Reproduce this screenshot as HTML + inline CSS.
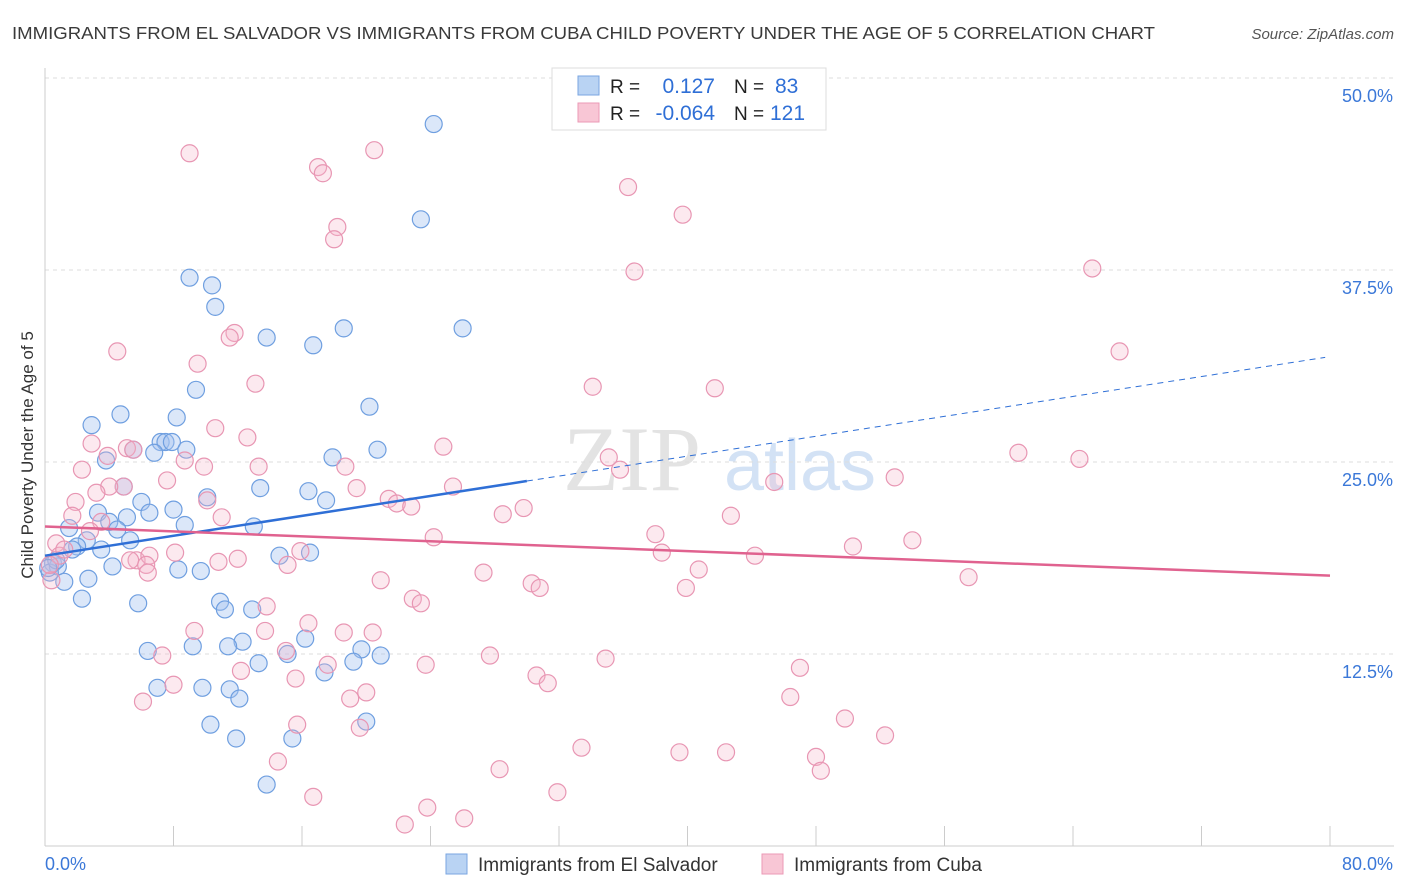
<!DOCTYPE html>
<html><head><meta charset="utf-8"><style>
body{margin:0;background:#fff;font-family:"Liberation Sans",sans-serif;}
#wrap{position:relative;width:1406px;height:892px;overflow:hidden;}
svg{position:absolute;left:0;top:0;}
</style></head><body>
<div id="wrap">
<svg id="chart" width="1406" height="892">
<text x="12" y="39" font-size="17.5" fill="#3a3a3a" textLength="1143" lengthAdjust="spacingAndGlyphs">IMMIGRANTS FROM EL SALVADOR VS IMMIGRANTS FROM CUBA CHILD POVERTY UNDER THE AGE OF 5 CORRELATION CHART</text>
<text x="1394" y="39" font-size="15" fill="#555" font-style="italic" text-anchor="end">Source: ZipAtlas.com</text>
<text x="0" y="0" transform="translate(33,455) rotate(-90)" font-size="17" fill="#333" text-anchor="middle">Child Poverty Under the Age of 5</text>
<g><text x="632" y="490" font-size="92" font-family="Liberation Serif,serif" fill="#ddd" text-anchor="middle" opacity="0.8">ZIP</text><text x="800" y="490" font-size="72" fill="#c9dcf3" text-anchor="middle" opacity="0.8">atlas</text></g>
<g id="grid"></g><g id="axes"></g><g id="pts"></g><g id="lines"></g>
<g>
<rect x="552" y="68" width="274" height="62" fill="#fff" stroke="#ddd"/>
<rect x="578" y="76" width="21" height="19" fill="#b9d3f3" stroke="#7aa6e0"/>
<rect x="578" y="103" width="21" height="19" fill="#f8c6d5" stroke="#eb9ab6"/>
<text x="610" y="93" font-size="19" fill="#222">R =</text><text x="715" y="93" font-size="21" fill="#2f6fd6" text-anchor="end">0.127</text>
<text x="734" y="93" font-size="19" fill="#222">N =</text><text x="775" y="93" font-size="21" fill="#2f6fd6">83</text>
<text x="610" y="120" font-size="19" fill="#222">R =</text><text x="715" y="120" font-size="21" fill="#2f6fd6" text-anchor="end">-0.064</text>
<text x="734" y="120" font-size="19" fill="#222">N =</text><text x="770" y="120" font-size="21" fill="#2f6fd6">121</text>
</g>
<g>
<rect x="446" y="854" width="21" height="20" fill="#b9d3f3" stroke="#7aa6e0"/>
<text x="478" y="871" font-size="19" fill="#333">Immigrants from El Salvador</text>
<rect x="762" y="854" width="21" height="20" fill="#f8c6d5" stroke="#eb9ab6"/>
<text x="794" y="871" font-size="19" fill="#333">Immigrants from Cuba</text>
</g>
</svg>
</div>
<script>
const yTicks=[12.5,25,37.5,50];
const yTickLabels=["12.5%","25.0%","37.5%","50.0%"];
const xTicks=[0,8,16,24,32,40,48,56,64,72,80];
const blueX=[24.2,23.4,9.0,10.4,10.6,13.8,18.6,26.0,16.7,9.4,20.2,4.7,2.9,8.2,7.2,7.5,7.9,8.8,6.8,5.5,20.7,3.8,17.9,13.4,4.9,16.4,10.1,17.5,6.0,8.0,3.3,6.5,5.1,4.0,1.5,8.7,13.0,4.5,2.6,5.3,2.0,1.7,3.5,14.6,16.5,0.5,0.8,4.2,8.3,9.7,0.3,2.7,1.2,10.9,11.2,12.9,5.8,2.3,16.2,12.3,6.4,9.2,11.4,15.1,19.7,20.9,13.3,19.2,17.4,7.0,9.8,11.5,12.1,20.0,10.3,11.9,15.4,13.8,0.7,0.2];
const blueY=[47.0,40.8,37.0,36.5,35.1,33.1,33.7,33.7,32.6,29.7,28.6,28.1,27.4,27.9,26.3,26.3,26.3,25.8,25.6,25.8,25.8,25.1,25.3,23.3,23.4,23.1,22.7,22.5,22.4,21.9,21.7,21.7,21.4,21.1,20.7,20.9,20.8,20.6,19.9,19.9,19.5,19.3,19.3,18.9,19.1,18.4,18.2,18.2,18.0,17.9,17.8,17.4,17.2,15.9,15.4,15.4,15.8,16.1,13.5,13.3,12.7,13.0,13.0,12.5,12.8,12.4,11.9,12.0,11.3,10.3,10.3,10.2,9.6,8.1,7.9,7.0,7.0,4.0,18.6,18.1];
const pinkX=[9.0,20.5,17.0,17.3,36.3,39.7,18.2,18.0,36.7,65.2,4.5,11.8,11.5,66.9,9.5,13.1,34.1,41.7,10.6,12.6,2.9,24.8,5.1,3.9,5.5,8.7,35.1,35.8,60.6,64.4,9.9,13.3,18.7,2.3,45.4,52.9,4.9,7.6,4.0,3.2,19.4,25.4,1.9,10.1,21.4,21.9,22.8,29.8,28.5,42.7,1.7,3.5,11.0,2.8,38.0,24.2,54.0,50.3,0.7,0.9,1.2,5.7,6.5,8.1,10.8,12.0,15.9,38.4,44.2,5.3,6.3,15.1,6.4,27.3,40.7,30.3,30.8,39.9,57.5,20.9,22.9,23.4,13.8,9.3,13.7,16.4,18.6,20.4,15.0,7.3,17.6,23.7,27.7,34.9,47.0,12.2,15.6,30.6,31.3,8.0,20.0,19.0,6.1,46.4,49.8,15.7,19.6,52.3,33.4,39.5,42.4,48.0,48.3,14.5,28.3,31.9,16.7,23.8,26.1,22.4,0.4,0.3];
const pinkY=[45.1,45.3,44.2,43.8,42.9,41.1,40.3,39.5,37.4,37.6,32.2,33.4,33.1,32.2,31.4,30.1,29.9,29.8,27.2,26.6,26.2,26.0,25.9,25.4,25.8,25.1,25.3,24.5,25.6,25.2,24.7,24.7,24.7,24.5,23.7,24.0,23.4,23.8,23.4,23.0,23.3,23.4,22.4,22.5,22.6,22.3,22.1,22.0,21.6,21.5,21.5,21.1,21.4,20.5,20.3,20.1,19.9,19.5,19.7,18.9,19.3,18.6,18.9,19.1,18.5,18.7,19.2,19.1,18.9,18.6,18.3,18.3,17.8,17.8,18.0,17.1,16.8,16.8,17.5,17.3,16.1,15.8,15.6,14.0,14.0,14.5,13.9,13.9,12.7,12.4,11.8,11.8,12.4,12.2,11.6,11.4,10.9,11.1,10.6,10.5,10.0,9.6,9.4,9.7,8.3,7.9,7.7,7.2,6.4,6.1,6.1,5.8,4.9,5.5,5.0,3.5,3.2,2.5,1.8,1.4,17.3,18.3];
const blueTrend=[18.9,0.162];
const pinkTrend=[20.8,-0.04];
const NS="http://www.w3.org/2000/svg";
const X=v=>45+v/80*1285, Y=v=>846-v/50*768;
function mk(tag,attrs,parent){const e=document.createElementNS(NS,tag);for(const k in attrs)e.setAttribute(k,attrs[k]);parent.appendChild(e);return e;}
const grid=document.getElementById('grid'),axes=document.getElementById('axes'),pts=document.getElementById('pts'),lines=document.getElementById('lines');
yTicks.forEach((t,i)=>{
 const l=mk('line',{x1:45,x2:1394,y1:Y(t),y2:Y(t),stroke:'#ddd','stroke-dasharray':'4,4'},grid);
 
 
 const tx=mk('text',{x:1393,y:Y(t)+24,'font-size':18,fill:'#3b78d8','text-anchor':'end'},axes);
 tx.textContent=yTickLabels[i];
 
 
});
const ax=mk('line',{x1:45,x2:1394,y1:846,y2:846,stroke:'#ccc'},axes);


const ay=mk('line',{x1:45,x2:45,y1:68,y2:846,stroke:'#ccc'},axes);


xTicks.forEach(t=>{const l=mk('line',{x1:X(t),x2:X(t),y1:826,y2:846,stroke:'#ccc'},axes);
 
 });
const x0=mk('text',{x:45,y:870,'font-size':18,fill:'#3b78d8'},axes);x0.textContent='0.0%';


const x1=mk('text',{x:1393,y:870,'font-size':18,fill:'#3b78d8','text-anchor':'end'},axes);x1.textContent='80.0%';


function series(xs,ys,fill,stroke,name){xs.forEach((v,i)=>{const c=mk('circle',{cx:X(v),cy:Y(ys[i]),r:8.5,fill:fill,stroke:stroke,'stroke-width':1.2},pts);
 
 });}
series(blueX,blueY,'rgba(164,196,240,0.4)','#6f9fe0','point-el-salvador');
series(pinkX,pinkY,'rgba(244,182,202,0.3)','#e896b3','point-cuba');
const bl=mk('line',{x1:X(0),y1:Y(blueTrend[0]),x2:X(30),y2:Y(blueTrend[0]+blueTrend[1]*30),stroke:'#2f6fd6','stroke-width':2.5},lines);


const bd=mk('line',{x1:X(30),y1:Y(blueTrend[0]+blueTrend[1]*30),x2:X(79.7),y2:Y(blueTrend[0]+blueTrend[1]*79.7),stroke:'#2f6fd6','stroke-width':1,'stroke-dasharray':'6,5'},lines);


const pl=mk('line',{x1:X(0),y1:Y(pinkTrend[0]),x2:X(80),y2:Y(pinkTrend[0]+pinkTrend[1]*80),stroke:'#e0628f','stroke-width':2.5},lines);


</script>
</body></html>
